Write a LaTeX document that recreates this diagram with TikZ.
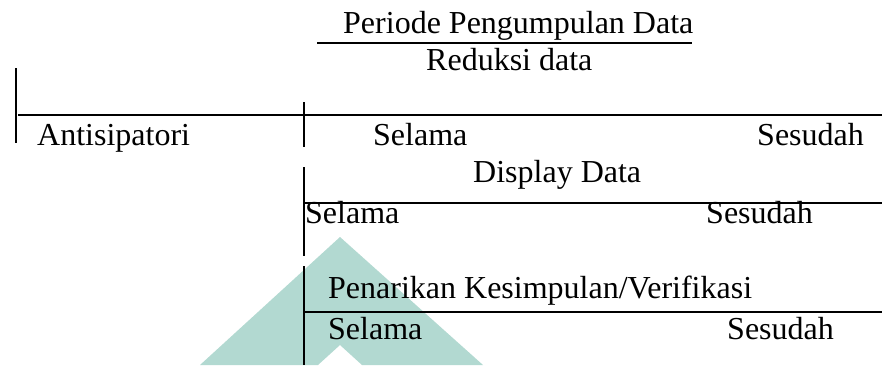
\documentclass[tikz,border=0pt]{standalone}
\usepackage{fontspec}
\setmainfont{Liberation Serif}
\usepackage{tikz}
\usetikzlibrary{positioning}

\definecolor{wmteal}{RGB}{178,217,209}

\begin{document}
\begin{tikzpicture}[x=1pt,y=-1pt]
	\tikzstyle{txt} = [inner sep=0pt, anchor=base west, font=\fontsize{32}{38}\selectfont]
	\tikzstyle{rule} = [line width=1.5pt]
	\useasboundingbox (0,0) rectangle (882,365);

	% watermark behind everything
	\fill [wmteal] (200,365) -- (340,237) -- (483,365) -- (362,365) -- (340,345) -- (318,365) -- cycle;

	\node [txt] (periode) at (343,33) {Periode Pengumpulan Data};
	\node [txt] (reduksi) at (426,70) {Reduksi data};
	\node [txt] (antisip) at (37,145) {Antisipatori};
	\node [txt] (selama1) at (373,145) {Selama};
	\node [txt] (sesudah1) at (757,145) {Sesudah};
	\node [txt] (display) at (473,182) {Display Data};
	\node [txt] (selama2) at (305,223) {Selama};
	\node [txt] (sesudah2) at (706,223) {Sesudah};
	\node [txt] (penarikan) at (328,298) {Penarikan Kesimpulan/Verifikasi};
	\node [txt] (selama3) at (328,339) {Selama};
	\node [txt] (sesudah3) at (727,339) {Sesudah};

	\node [coordinate] (u1) at (317,43) {};
	\node [coordinate] (u2) at (692,43) {};
	\node [coordinate] (l1) at (16,68) {};
	\node [coordinate] (l2) at (16,143) {};
	\node [coordinate] (h1) at (18,115) {};
	\node [coordinate] (h2) at (882,115) {};
	\node [coordinate] (v1) at (304,102) {};
	\node [coordinate] (v2) at (304,147) {};
	\node [coordinate] (v3) at (304,167) {};
	\node [coordinate] (v4) at (304,256) {};
	\node [coordinate] (v5) at (304,266) {};
	\node [coordinate] (v6) at (304,365) {};
	\node [coordinate] (d1) at (304,203) {};
	\node [coordinate] (d2) at (882,203) {};
	\node [coordinate] (p1) at (304,312) {};
	\node [coordinate] (p2) at (882,312) {};

	\draw [rule] (u1) -- (u2);
	\draw [rule] (l1) -- (l2);
	\draw [rule] (h1) -- (h2);
	\draw [rule] (v1) -- (v2);
	\draw [rule] (v3) -- (v4);
	\draw [rule] (v5) -- (v6);
	\draw [rule] (d1) -- (d2);
	\draw [rule] (p1) -- (p2);

\end{tikzpicture}
\end{document}
